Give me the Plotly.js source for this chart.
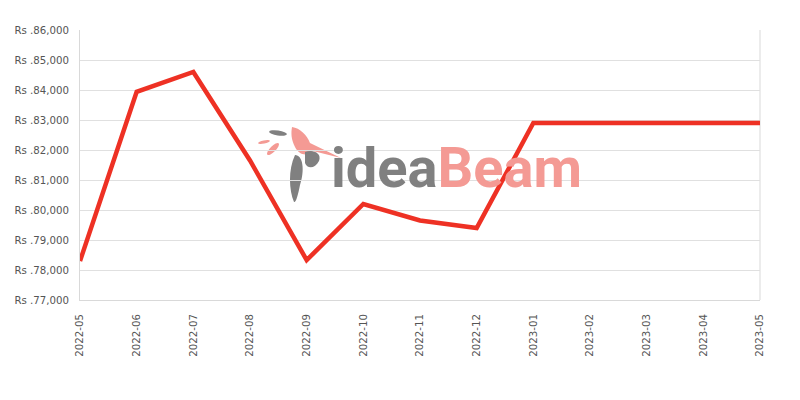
<!DOCTYPE html>
<html>
<head>
<meta charset="utf-8">
<script src="https://cdn.plot.ly/plotly-3.0.1.min.js"></script>
<style>html,body{margin:0;padding:0;background:#fff;}#chart{width:800px;height:400px;}</style>
</head>
<body>
<div id="chart"></div>
<script>
const months = ["2022-05","2022-06","2022-07","2022-08","2022-09","2022-10","2022-11","2022-12","2023-01","2023-02","2023-03","2023-04","2023-05"];
const prices = [78300, 83940, 84600, 81650, 78330, 80200, 79650, 79400, 82900, 82900, 82900, 82900, 82900];
const yTicks = [77000, 78000, 79000, 80000, 81000, 82000, 83000, 84000, 85000, 86000];
const yTickLabels = yTicks.map(v => "Rs ." + v.toLocaleString("en-US"));

const birdSvg = '<svg xmlns="http://www.w3.org/2000/svg" width="90" height="80" viewBox="0 0 90 80">' +
  '<ellipse cx="23" cy="8" rx="9" ry="2.5" fill="#808080" transform="rotate(8 23 8)"/>' +
  '<ellipse cx="9" cy="17" rx="6" ry="1.6" fill="#F49A94" transform="rotate(-12 9 17)"/>' +
  '<ellipse cx="18" cy="24" rx="8" ry="2.8" fill="#F49A94" transform="rotate(-45 18 24)"/>' +
  '<path d="M37,2 C45,3 52,10 55,18 L86,33 L58,26 C52,32 44,30 40,22 C36,14 36,8 37,2 Z" fill="#F49A94"/>' +
  '<path d="M40,30 C48,30 50,45 45,60 C43,70 41,78 39,77 C34,65 33,45 40,30 Z" fill="#808080"/>' +
  '<path d="M50,27 C58,24 67,28 64,36 C60,44 52,44 50,38 Z" fill="#808080"/>' +
  '</svg>';
const birdUri = 'data:image/svg+xml;charset=utf-8,' + encodeURIComponent(birdSvg);

const trace = {
  x: months,
  y: prices,
  type: "scatter",
  mode: "lines",
  line: {color: "#EE3124", width: 4.5},
  hoverinfo: "x+y",
  cliponaxis: true
};

const tickFont = {family: "DejaVu Sans, sans-serif", size: 10.2, color: "#555555"};

const layout = {
  width: 800, height: 400,
  margin: {l: 80, r: 40, t: 30, b: 100},
  paper_bgcolor: "#ffffff",
  plot_bgcolor: "#ffffff",
  showlegend: false,
  font: tickFont,
  xaxis: {
    type: "category",
    range: [0, 12],
    tickangle: -90,
    showgrid: false,
    showline: true, linecolor: "#d9d9d9", linewidth: 1, mirror: false,
    ticks: "", ticklabelstandoff: 9,
    zeroline: false,
    tickfont: tickFont
  },
  yaxis: {
    range: [77000, 86000],
    tickvals: yTicks,
    ticktext: yTickLabels,
    showgrid: true, gridcolor: "#e0e0e0", gridwidth: 1,
    showline: true, linecolor: "#d9d9d9", linewidth: 1,
    ticks: "", ticklabelstandoff: 8,
    zeroline: false,
    tickfont: tickFont
  },
  shapes: [
    {type: "line", xref: "paper", yref: "paper", x0: 1, x1: 1, y0: 0, y1: 1, line: {color: "#d9d9d9", width: 1}, layer: "below"}
  ],
  images: [
    {source: birdUri, xref: "paper", yref: "paper", x: (255-80)/680, y: (300-125)/270, sizex: 90/680, sizey: 80/270, sizing: "stretch", xanchor: "left", yanchor: "top", layer: "below"}
  ],
  annotations: [
    {xref: "paper", yref: "paper", x: (456-80)/680, y: (300-168)/270, xanchor: "center", yanchor: "middle", showarrow: false,
     text: '<span style="color:#808080">idea</span><span style="color:#F49A94">Beam</span>',
     font: {family: "Roboto, sans-serif", size: 56, weight: 700}}
  ]
};

Plotly.newPlot("chart", [trace], layout, {displayModeBar: false, staticPlot: true});
</script>
</body>
</html>
